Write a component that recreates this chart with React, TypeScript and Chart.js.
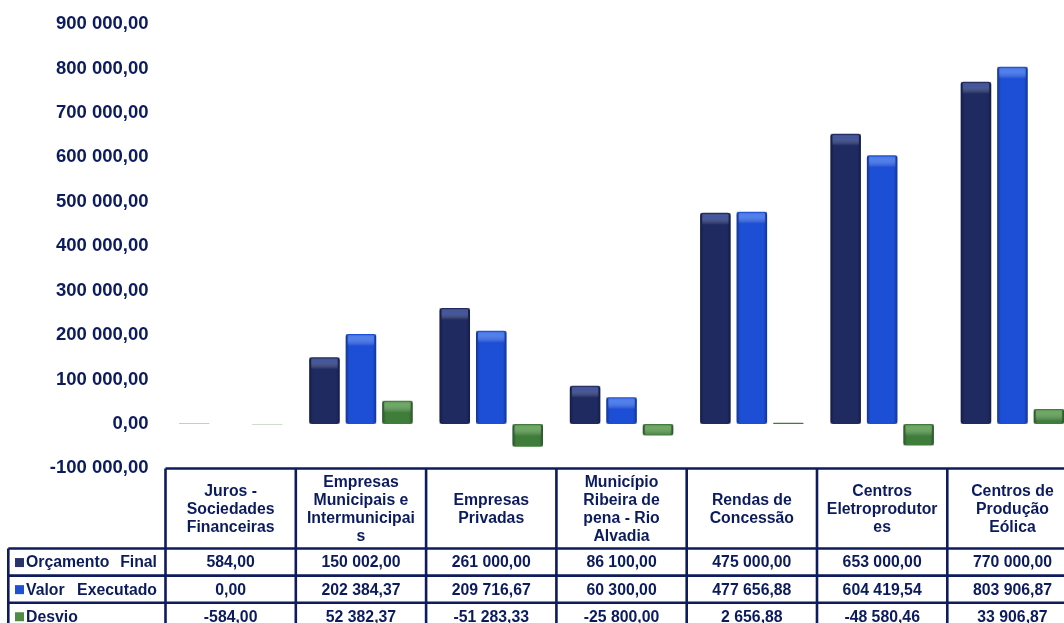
import React, { useEffect, useRef } from "react";
import { Chart, registerables } from "chart.js";

Chart.register(...registerables);

const categories: string[][] = [
  ["Juros -", "Sociedades", "Financeiras"],
  ["Empresas", "Municipais e", "Intermunicipai", "s"],
  ["Empresas", "Privadas"],
  ["Município", "Ribeira de", "pena - Rio", "Alvadia"],
  ["Rendas de", "Concessão"],
  ["Centros", "Eletroprodutor", "es"],
  ["Centros de", "Produção", "Eólica"],
];

const orcamentoFinal = [584.0, 150002.0, 261000.0, 86100.0, 475000.0, 653000.0, 770000.0];
const valorExecutado = [0.0, 202384.37, 209716.67, 60300.0, 477656.88, 604419.54, 803906.87];
const desvio = [-584.0, 52382.37, -51283.33, -25800.0, 2656.88, -48580.46, 33906.87];

const seriesNames = ["Orçamento Final", "Valor Executado", "Desvio"];
const seriesColors = ["#1f2a60", "#1c4fd6", "#3f7d3a"];
const highlightColors = ["rgba(90,120,220,0.55)", "rgba(110,160,255,0.6)", "rgba(140,200,120,0.6)"];
const markerColors = ["#2a3468", "#1f50d2", "#4f8a47"];

const yMin = -100000;
const yMax = 900000;
const yStep = 100000;

const NAVY = "#0b1b5e";
const FONT = '"Liberation Sans", Arial, sans-serif';

function fmt(v: number): string {
  const neg = v < 0;
  const [i, d] = Math.abs(v).toFixed(2).split(".");
  const ip = i.replace(/\B(?=(\d{3})+(?!\d))/g, " ");
  return (neg ? "-" : "") + ip + "," + d;
}

const barShadePlugin = {
  id: "barShade",
  afterDatasetsDraw(chart: any) {
    const ctx = chart.ctx as CanvasRenderingContext2D;
    ctx.save();
    chart.data.datasets.forEach((_: any, di: number) => {
      const meta = chart.getDatasetMeta(di);
      meta.data.forEach((bar: any) => {
        const { x, y, base, width } = bar.getProps(["x", "y", "base", "width"], true);
        const l = x - width / 2;
        const t = Math.min(y, base);
        const h = Math.abs(base - y);
        if (h < 4) return;
        const g = ctx.createLinearGradient(l, 0, l + width, 0);
        g.addColorStop(0, "rgba(0,0,20,0.35)");
        g.addColorStop(0.12, "rgba(0,0,20,0)");
        g.addColorStop(0.88, "rgba(0,0,20,0)");
        g.addColorStop(1, "rgba(0,0,20,0.35)");
        ctx.fillStyle = g;
        ctx.fillRect(l, t, width, h);
        const hh = Math.min(12, h);
        const g2 = ctx.createLinearGradient(0, t, 0, t + hh);
        g2.addColorStop(0, "rgba(255,255,255,0)");
        g2.addColorStop(0.3, highlightColors[di]);
        g2.addColorStop(1, "rgba(255,255,255,0)");
        ctx.fillStyle = g2;
        ctx.fillRect(l + 2, t + 1, width - 4, hh);
      });
    });
    ctx.restore();
  },
};

const tablePlugin = {
  id: "dataTable",
  afterDraw(chart: any) {
    const ctx = chart.ctx as CanvasRenderingContext2D;
    const xs = chart.scales.x;
    const area = chart.chartArea;
    const n = categories.length;
    const cw = (area.right - area.left) / n;
    const left = area.left;
    const right = area.right;
    const headTop = 468.5;
    const headBottom = 548.5;
    const rowH = 27.1;
    const labelLeft = 8.3;
    const rows = [orcamentoFinal, valorExecutado, desvio];
    const bottom = headBottom + rowH * 3;

    ctx.save();
    ctx.fillStyle = "#ffffff";
    ctx.fillRect(left, headTop, right - left, bottom - headTop);
    ctx.fillRect(labelLeft, headBottom, left - labelLeft, bottom - headBottom);

    ctx.strokeStyle = "#0e1c5c";
    ctx.lineWidth = 2.6;
    ctx.beginPath();
    ctx.moveTo(left, headTop);
    ctx.lineTo(right, headTop);
    for (let r = 0; r <= 3; r++) {
      const y = headBottom + r * rowH;
      ctx.moveTo(labelLeft, y);
      ctx.lineTo(right, y);
    }
    ctx.moveTo(labelLeft, headBottom);
    ctx.lineTo(labelLeft, bottom);
    for (let c = 0; c <= n; c++) {
      const x = left + c * cw;
      ctx.moveTo(x, headTop);
      ctx.lineTo(x, bottom);
    }
    ctx.stroke();

    ctx.fillStyle = NAVY;
    ctx.font = `bold 15.8px ${FONT}`;
    ctx.textAlign = "center";
    ctx.textBaseline = "middle";
    const lh = 18;
    const hc = (headTop + headBottom) / 2;
    categories.forEach((lines, i) => {
      const cx = xs.getPixelForValue(i);
      const start = hc - ((lines.length - 1) * lh) / 2;
      lines.forEach((ln, k) => ctx.fillText(ln, cx, start + k * lh + 1));
    });

    rows.forEach((vals, r) => {
      const cy = headBottom + r * rowH + rowH / 2 + 1;
      vals.forEach((v, i) => {
        ctx.fillText(fmt(v), xs.getPixelForValue(i), cy);
      });
      ctx.fillStyle = markerColors[r];
      ctx.fillRect(15, cy - 5, 9, 9);
      ctx.fillStyle = NAVY;
      const words = seriesNames[r].split(" ");
      ctx.textAlign = "left";
      ctx.fillText(words[0], 26, cy);
      if (words.length > 1) {
        ctx.textAlign = "right";
        ctx.fillText(words.slice(1).join(" "), 157, cy);
      }
      ctx.textAlign = "center";
    });
    ctx.restore();
  },
};

export default function App() {
  const ref = useRef<HTMLCanvasElement>(null);
  useEffect(() => {
    if (!ref.current) return;
    const chart = new Chart(ref.current, {
      type: "bar",
      data: {
        labels: categories.map((c) => c.join(" ")),
        datasets: [orcamentoFinal, valorExecutado, desvio].map((d, i) => ({
          label: seriesNames[i],
          data: d,
          backgroundColor: seriesColors[i],
          borderRadius: 3,
          borderSkipped: false,
          barPercentage: 0.836,
          categoryPercentage: 0.84,
        })),
      },
      options: {
        animation: false,
        responsive: false,
        layout: { padding: { top: 24, bottom: 154.6, left: 0, right: 2.4 } },
        plugins: { legend: { display: false }, tooltip: { enabled: false } },
        scales: {
          x: { display: false },
          y: {
            min: yMin,
            max: yMax,
            grid: { display: false, drawTicks: true, tickLength: 17 },
            border: { display: false },
            afterFit(scale: any) {
              scale.width = 165.5;
            },
            ticks: {
              stepSize: yStep,
              padding: 0,
              color: NAVY,
              font: { family: FONT, size: 18.5, weight: "bold" },
              callback: (v: any) => fmt(Number(v)),
            },
          },
        },
      },
      plugins: [barShadePlugin, tablePlugin],
    });
    return () => chart.destroy();
  }, []);
  return (
    <div
      style={{
        position: "fixed",
        left: 0,
        top: 0,
        width: 1064,
        height: 623,
        overflow: "hidden",
        background: "#ffffff",
      }}
    >
      <canvas ref={ref} width={1080} height={623} style={{ display: "block" }} />
    </div>
  );
}
